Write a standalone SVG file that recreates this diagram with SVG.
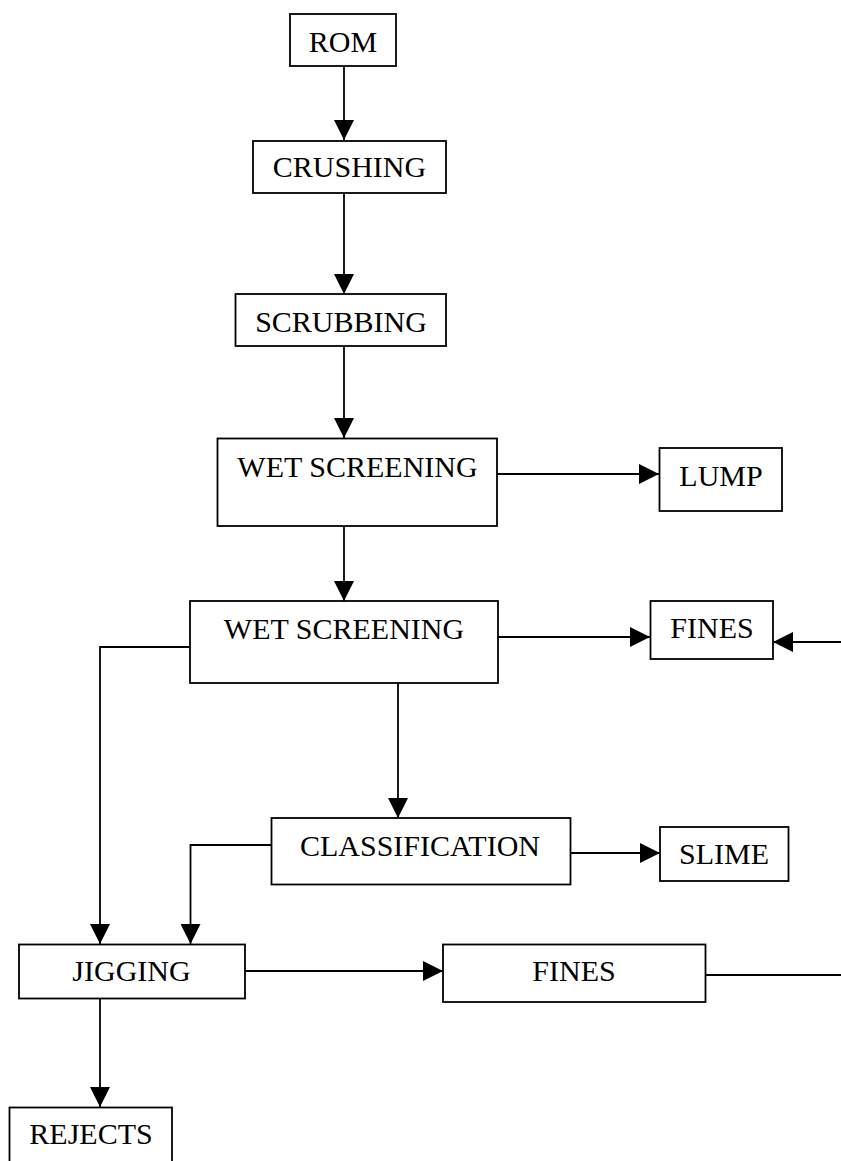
<svg xmlns="http://www.w3.org/2000/svg" width="841" height="1161" viewBox="0 0 841 1161">
<style>
.box{fill:#fff;stroke:#000;stroke-width:1.8}
.lbl{font-family:"Liberation Serif","Times New Roman",serif;font-size:30px;fill:#000;text-anchor:middle}
.c{fill:none;stroke:#000;stroke-width:1.8}
.a{marker-end:url(#ah)}
</style>
<defs>
<marker id="ah" markerUnits="userSpaceOnUse" markerWidth="20" markerHeight="20" refX="18" refY="9" orient="auto" viewBox="0 0 18 18">
<path d="M0,0 L18,9 L0,18 z" fill="#000"/>
</marker>
</defs>
<rect width="841" height="1161" fill="#fff"/>
<g id="connectors">
<path class="c a" d="M344,66 V140"/>
<path class="c a" d="M344,193 V294"/>
<path class="c a" d="M344,346 V438"/>
<path class="c a" d="M497,474 H659"/>
<path class="c a" d="M344,526 V601"/>
<path class="c a" d="M498,637 H650"/>
<path class="c a" d="M841,642 H773"/>
<path class="c a" d="M190,647 H100 V944"/>
<path class="c a" d="M398,683 V818"/>
<path class="c a" d="M571,853 H660"/>
<path class="c a" d="M271,845 H190.5 V944"/>
<path class="c a" d="M245,971 H443"/>
<path class="c" d="M705,975 H841"/>
<path class="c a" d="M100,999 V1107"/>
</g>
<g id="rom"><rect class="box" x="290" y="14" width="106" height="52"/><text class="lbl" x="343" y="52">ROM</text></g>
<g id="crushing"><rect class="box" x="253" y="141" width="193" height="52"/><text class="lbl" x="349.5" y="177">CRUSHING</text></g>
<g id="scrubbing"><rect class="box" x="235.5" y="294" width="210.5" height="52"/><text class="lbl" x="341" y="332">SCRUBBING</text></g>
<g id="wet-screening-1"><rect class="box" x="217.5" y="438.5" width="279.5" height="87.5"/><text class="lbl" x="357.5" y="477">WET SCREENING</text></g>
<g id="lump"><rect class="box" x="659.5" y="448" width="122.5" height="63"/><text class="lbl" x="721" y="486">LUMP</text></g>
<g id="wet-screening-2"><rect class="box" x="190" y="601" width="308" height="82"/><text class="lbl" x="344" y="638.5">WET SCREENING</text></g>
<g id="fines-1"><rect class="box" x="650.5" y="601" width="122.5" height="58"/><text class="lbl" x="712" y="638">FINES</text></g>
<g id="classification"><rect class="box" x="271.5" y="818" width="299" height="66.5"/><text class="lbl" x="420" y="856">CLASSIFICATION</text></g>
<g id="slime"><rect class="box" x="660" y="827" width="128.5" height="54"/><text class="lbl" x="724" y="864">SLIME</text></g>
<g id="jigging"><rect class="box" x="19" y="944.5" width="226" height="54"/><text class="lbl" x="131.5" y="981">JIGGING</text></g>
<g id="fines-2"><rect class="box" x="443" y="944.5" width="262.5" height="57.5"/><text class="lbl" x="574" y="981">FINES</text></g>
<g id="rejects"><rect class="box" x="9.5" y="1107.5" width="162.5" height="60"/><text class="lbl" x="91" y="1143.5">REJECTS</text></g>
</svg>
